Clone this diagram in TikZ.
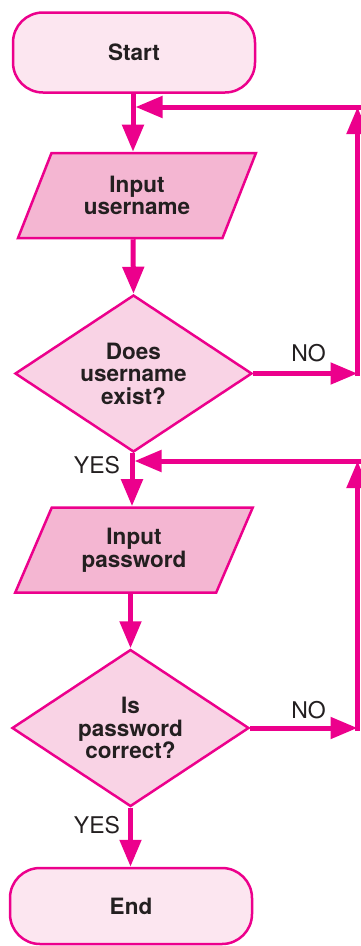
\documentclass[tikz,border=0pt]{standalone}
\usepackage{fontspec}
\setmainfont{TeX Gyre Heros}
\usetikzlibrary{shapes.geometric,arrows.meta}
\definecolor{mag}{HTML}{EC008C}
\definecolor{termfill}{HTML}{FCE6F0}
\definecolor{iofill}{HTML}{F4B6D2}
\definecolor{decfill}{HTML}{F9D3E5}
\definecolor{ink}{HTML}{231F20}
\tikzset{
  box/.style={draw=mag, line width=2.5pt, text=ink, align=center, inner sep=0pt,
    font=\bfseries\fontsize{22.5}{22.5}\selectfont},
  term/.style={box, rectangle, rounded corners=30pt, fill=termfill, minimum width=242pt, minimum height=80pt},
  iobox/.style={box, trapezium, trapezium left angle=62, trapezium right angle=118,
    trapezium stretches=true, fill=iofill, minimum width=238pt, minimum height=85pt},
  decision/.style={box, diamond, aspect=1.5, fill=decfill, minimum width=237pt, minimum height=157pt},
  flow/.style={draw=mag, line width=5pt, -{Triangle[length=27pt,width=21pt]}},
  lbl/.style={text=ink, font=\fontsize{23}{23}\selectfont, inner sep=0pt}
}
\begin{document}
\begin{tikzpicture}[x=1pt,y=1pt]
\useasboundingbox (0,0) rectangle (361,-946);
% nodes
\node[term] (start) at (134,-52.5) {Start};
\node[iobox] (in1) at (137,-195.5) {Input\\username};
\node[decision] (d1) at (133.5,-373.5) {Does\\username\\exist?};
\node[iobox] (in2) at (134,-550) {Input\\password};
\node[decision] (d2) at (130.5,-728) {Is\\password\\correct?};
\node[term, minimum height=76pt] (end) at (131,-906) {End};
% labels
\node[lbl] (no1) at (308.5,-353.5) {NO};
\node[lbl] (yes1) at (97,-465) {YES};
\node[lbl] (no2) at (308.5,-710) {NO};
\node[lbl] (yes2) at (97,-825.5) {YES};
% helper coordinates
\coordinate (j1) at (133,-107);
\coordinate (r1b) at (357.5,-373.5);
\coordinate (r1t) at (357.5,-107);
\coordinate (r1c) at (360.5,-107);
\coordinate (j2) at (132,-461);
\coordinate (r2b) at (357.5,-728);
\coordinate (r2t) at (357.5,-461);
\coordinate (r2c) at (360.5,-461);
% main flow
\draw[flow] (start.south -| j1) -- (j1 |- in1.north);
\draw[flow] (j1 |- in1.south) -- (d1.north);
\draw[flow] (d1.south -| j2) -- (j2 |- in2.north);
\draw[flow] (in2.south -| d2.north) -- (d2.north);
\draw[flow] (d2.south) -- (end.north -| d2.south);
% loop 1
\draw[flow] (d1.east) -- (r1b);
\draw[flow] ([yshift=-2.5pt]r1b) -- (r1t);
\draw[flow] (r1c) -- ([xshift=2.5pt]j1);
% loop 2
\draw[flow] (d2.east) -- (r2b);
\draw[flow] ([yshift=-2.5pt]r2b) -- (r2t);
\draw[flow] (r2c) -- ([xshift=2.5pt]j2);
\end{tikzpicture}
\end{document}
